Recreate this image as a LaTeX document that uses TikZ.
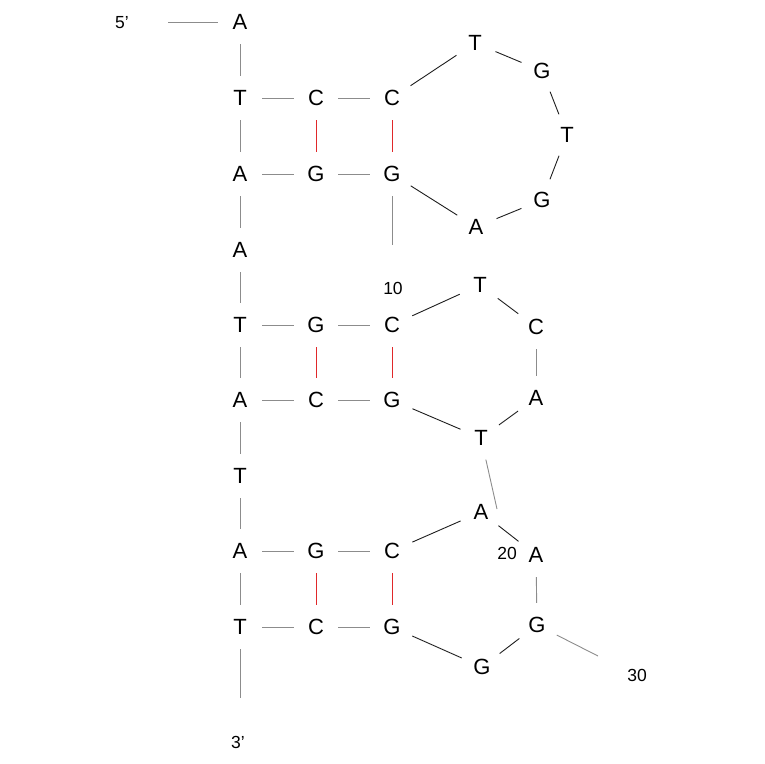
\documentclass[tikz,border=0pt]{standalone}
\usepackage{fontspec}
\setmainfont{Liberation Sans}
\definecolor{stemgray}{HTML}{8C8C8C}
\definecolor{loopblack}{HTML}{1E1E1E}
\definecolor{pairred}{HTML}{E0282A}
\tikzset{
	base/.style={circle,minimum size=44pt,inner sep=0pt,font=\fontsize{22}{26}\selectfont},
	num/.style={inner sep=0pt,font=\fontsize{17.5}{21}\selectfont},
	stem/.style={draw=stemgray,line width=0.9pt},
	loop/.style={draw=loopblack,line width=0.9pt},
	pair/.style={draw=pairred,line width=0.9pt}
}

\begin{document}
\begin{tikzpicture}[x=1pt,y=-1pt]
	\useasboundingbox (0,0) rectangle (764,764);
	% left strand
	\node[base] (L1) at (240,22) {A};
	\node[base] (L2) at (240,98) {T};
	\node[base] (L3) at (240,174) {A};
	\node[base] (L4) at (240,250) {A};
	\node[base] (L5) at (240,325) {T};
	\node[base] (L6) at (240,400) {A};
	\node[base] (L7) at (240,476) {T};
	\node[base] (L8) at (240,551) {A};
	\node[base] (L9) at (240,627) {T};
	% stems
	\node[base] (M1) at (316,98) {C};
	\node[base] (R1) at (392,98) {C};
	\node[base] (M2) at (316,174) {G};
	\node[base] (R2) at (392,174) {G};
	\node[base] (M3) at (316,325) {G};
	\node[base] (R3) at (392,325) {C};
	\node[base] (M4) at (316,400) {C};
	\node[base] (R4) at (392,400) {G};
	\node[base] (M5) at (316,551) {G};
	\node[base] (R5) at (392,551) {C};
	\node[base] (M6) at (316,627) {C};
	\node[base] (R6) at (392,627) {G};
	% loops
	\node[base] (P1) at (475,43) {T};
	\node[base] (P2) at (542,71) {G};
	\node[base] (P3) at (567,135) {T};
	\node[base] (P4) at (542,200) {G};
	\node[base] (P5) at (476,227) {A};
	\node[base] (Q1) at (480,285) {T};
	\node[base] (Q2) at (536,327) {C};
	\node[base] (Q3) at (536,398) {A};
	\node[base] (Q4) at (481,438) {T};
	\node[base] (U1) at (481,512) {A};
	\node[base] (U2) at (536,555) {A};
	\node[base] (U3) at (537,625) {G};
	\node[base] (U4) at (482,667) {G};
	% numbers and ends
	\node[num] (five) at (122,23) {5'};
	\node[num] (three) at (238,742) {3'};
	\node[num] (n10) at (393,288) {10};
	\node[num] (n20) at (507,553) {20};
	\node[num] (n30) at (637,675) {30};
	\coordinate (start) at (168,22);
	\coordinate (finish) at (240,698);
	\coordinate (tailA) at (392,245);
	\coordinate (tailB) at (497,509);
	\coordinate (tailC) at (598,656);

	\draw[stem] (start)--(L1)--(L2)--(L3)--(L4)--(L5)--(L6)--(L7)--(L8)--(L9)--(finish);
	\draw[stem] (L2)--(M1)--(R1);
	\draw[stem] (L3)--(M2)--(R2);
	\draw[stem] (L5)--(M3)--(R3);
	\draw[stem] (L6)--(M4)--(R4);
	\draw[stem] (L8)--(M5)--(R5);
	\draw[stem] (L9)--(M6)--(R6);
	\draw[pair] (M1)--(M2);
	\draw[pair] (R1)--(R2);
	\draw[pair] (M3)--(M4);
	\draw[pair] (R3)--(R4);
	\draw[pair] (M5)--(M6);
	\draw[pair] (R5)--(R6);
	\draw[loop] (R1)--(P1)--(P2)--(P3)--(P4)--(P5)--(R2);
	\draw[stem] (R2)--(tailA);
	\draw[loop] (R3)--(Q1)--(Q2);
	\draw[stem] (Q2)--(Q3);
	\draw[loop] (Q3)--(Q4)--(R4);
	\draw[stem] (Q4)--(tailB);
	\draw[loop] (R5)--(U1)--(U2);
	\draw[stem] (U2)--(U3);
	\draw[loop] (U3)--(U4)--(R6);
	\draw[stem] (U3)--(tailC);
\end{tikzpicture}
\end{document}
